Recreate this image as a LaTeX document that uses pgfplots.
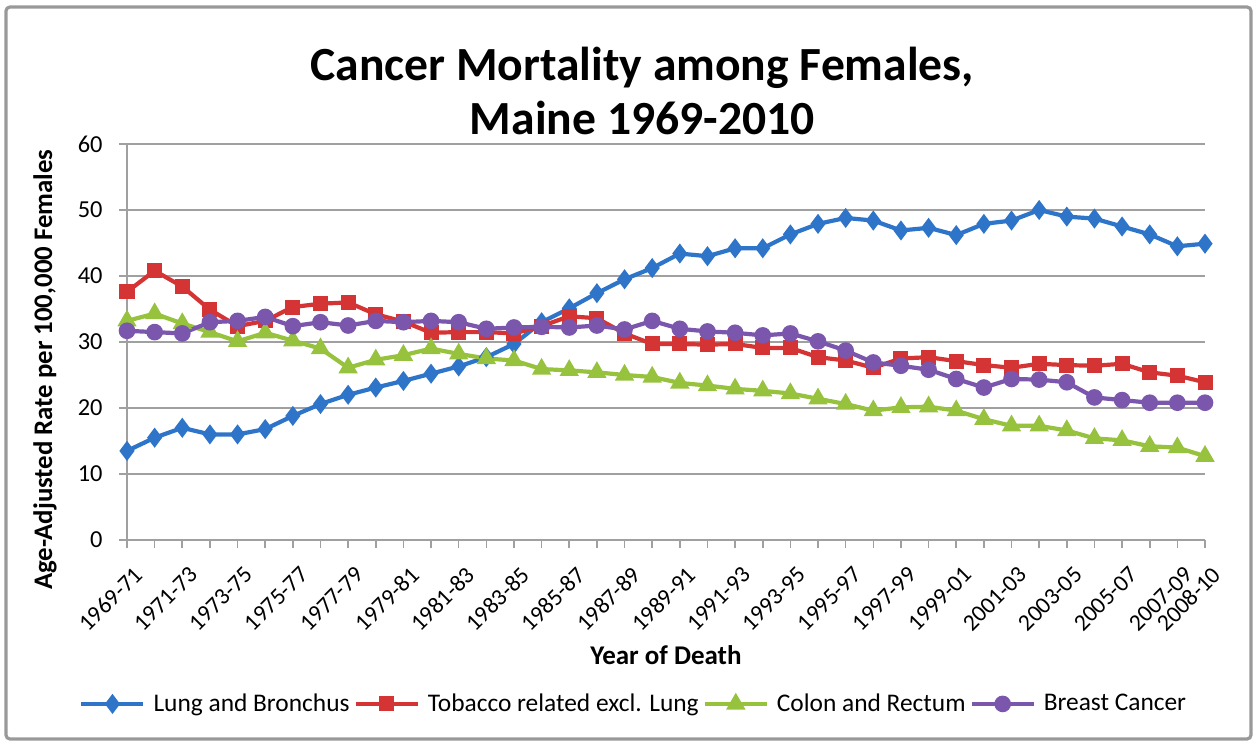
\documentclass[border=0pt]{standalone}
\usepackage{pgfplots}
\pgfplotsset{compat=1.18}
\usepackage{fontspec}
\setmainfont{Carlito}
\definecolor{cblue}{RGB}{46,117,201}
\definecolor{cred}{RGB}{212,52,52}
\definecolor{cgreen}{RGB}{150,194,62}
\definecolor{cpurple}{RGB}{122,86,172}
\definecolor{gridgray}{RGB}{160,160,160}
\begin{document}
\begin{tikzpicture}
\path[use as bounding box] (0,0) rectangle (627bp,370.5bp);
\draw[gray!80,line width=1.6bp,rounded corners=2bp] (3bp,1bp) rectangle (625.5bp,367bp);
\begin{axis}[
  at={(63.5bp,100.5bp)}, anchor=south west,
  width=539bp, height=198bp, scale only axis,
  xmin=0, xmax=39, ymin=0, ymax=60,
  xtick={0,...,39},
  xticklabels={1969-71,,1971-73,,1973-75,,1975-77,,1977-79,,1979-81,,1981-83,,1983-85,,1985-87,,1987-89,,1989-91,,1991-93,,1993-95,,1995-97,,1997-99,,1999-01,,2001-03,,2003-05,,2005-07,,2007-09,2008-10},
  ytick={0,10,...,60},
  axis x line*=bottom, axis y line*=left,
  axis line style={gridgray, line width=1bp, -},
  ymajorgrids, grid style={gridgray, line width=1bp},
  tick style={gridgray, line width=0.8bp},
  major tick length=4bp,
  xtick pos=bottom, ytick pos=left,
  tick align=outside,
  /pgf/number format/assume math mode=true,
  ticklabel style={font=\fontsize{12.2bp}{14bp}\selectfont, text=black},
  xticklabel style={font=\fontsize{11.8bp}{14bp}\selectfont, anchor=north east, inner sep=0bp, xshift=3bp, yshift=-8.5bp, rotate=45},
  yticklabel style={inner sep=2bp, xshift=-6bp},
  xlabel={Year of Death},
  xlabel style={font=\bfseries\fontsize{13.5bp}{15bp}\selectfont, at={(axis description cs:0.5,-0.29)}, anchor=center},
  ylabel={Age-Adjusted Rate per 100,000 Females},
  ylabel style={font=\bfseries\fontsize{13.4bp}{15bp}\selectfont, at={(axis description cs:-0.076,0.43)}, anchor=center, rotate=0},
  title={Cancer Mortality among Females,\\Maine 1969-2010},
  title style={font=\bfseries\fontsize{23.8bp}{27bp}\selectfont, align=center, at={(axis description cs:0.478,1.105)}, anchor=center},
  legend columns=4,
  legend style={draw=none, fill=none, at={(axis description cs:0.471,-0.414)}, anchor=center,
    font=\fontsize{12.7bp}{14bp}\selectfont, inner sep=0bp,
    /tikz/every even column/.append style={column sep=0bp},
    /tikz/every odd column/.append style={column sep=2bp}},
  legend image code/.code={%
    \draw[#1,mark repeat=2,mark phase=2] plot coordinates {(0bp,0bp) (15.5bp,0bp) (31bp,0bp)};},
  every axis plot/.append style={line width=2.1bp, mark options={solid}},
  clip=false,
]
\addplot[cblue, mark=diamond*, mark size=3.3bp] coordinates {
(0,13.5) (1,15.5) (2,17.0) (3,16.0) (4,16.0) (5,16.8) (6,18.8) (7,20.6) (8,22.0) (9,23.1)
(10,24.1) (11,25.2) (12,26.3) (13,27.7) (14,29.7) (15,33.0) (16,35.1) (17,37.4) (18,39.5) (19,41.2)
(20,43.4) (21,43.0) (22,44.2) (23,44.2) (24,46.3) (25,47.9) (26,48.8) (27,48.4) (28,46.9) (29,47.3)
(30,46.2) (31,47.9) (32,48.4) (33,50.0) (34,49.0) (35,48.7) (36,47.5) (37,46.3) (38,44.5) (39,44.9)};
\addlegendentry{Lung and Bronchus}
\addplot[cred, mark=square*, mark size=2.7bp] coordinates {
(0,37.6) (1,40.8) (2,38.4) (3,34.9) (4,32.4) (5,33.2) (6,35.3) (7,35.8) (8,36.0) (9,34.2)
(10,33.1) (11,31.4) (12,31.5) (13,31.5) (14,31.3) (15,32.4) (16,33.9) (17,33.6) (18,31.3) (19,29.7)
(20,29.7) (21,29.6) (22,29.7) (23,29.1) (24,29.1) (25,27.7) (26,27.2) (27,26.1) (28,27.5) (29,27.7)
(30,27.1) (31,26.5) (32,26.1) (33,26.7) (34,26.5) (35,26.4) (36,26.7) (37,25.4) (38,24.9) (39,23.9)};
\addlegendentry{Tobacco related excl. Lung}
\addplot[cgreen, mark=triangle*, mark size=3.5bp] coordinates {
(0,33.2) (1,34.3) (2,32.8) (3,31.5) (4,30.1) (5,31.4) (6,30.2) (7,29.0) (8,26.1) (9,27.3)
(10,28.0) (11,29.0) (12,28.2) (13,27.5) (14,27.2) (15,25.9) (16,25.7) (17,25.4) (18,25.0) (19,24.7)
(20,23.8) (21,23.4) (22,22.9) (23,22.6) (24,22.2) (25,21.4) (26,20.6) (27,19.6) (28,20.1) (29,20.2)
(30,19.6) (31,18.3) (32,17.3) (33,17.3) (34,16.6) (35,15.4) (36,15.1) (37,14.2) (38,14.0) (39,12.7)};
\addlegendentry{Colon and Rectum}
\addplot[cpurple, mark=*, mark size=3.1bp] coordinates {
(0,31.7) (1,31.5) (2,31.3) (3,33.0) (4,33.2) (5,33.8) (6,32.4) (7,33.0) (8,32.5) (9,33.2)
(10,33.0) (11,33.2) (12,33.0) (13,32.0) (14,32.2) (15,32.3) (16,32.2) (17,32.5) (18,31.9) (19,33.2)
(20,32.0) (21,31.6) (22,31.4) (23,31.0) (24,31.3) (25,30.1) (26,28.7) (27,26.9) (28,26.4) (29,25.8)
(30,24.4) (31,23.1) (32,24.4) (33,24.3) (34,23.9) (35,21.6) (36,21.2) (37,20.8) (38,20.8) (39,20.8)};
\addlegendentry{Breast Cancer}
\end{axis}
\end{tikzpicture}
\end{document}
